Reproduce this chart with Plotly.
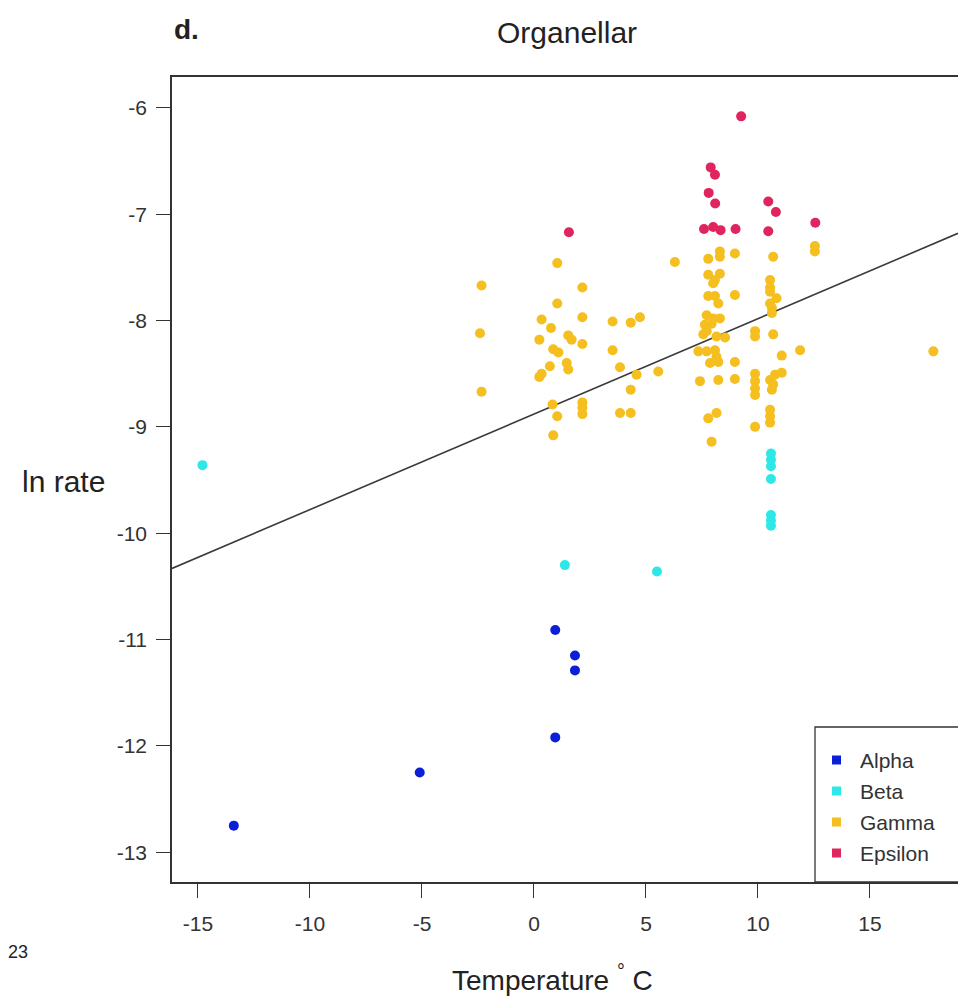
import plotly.graph_objects as go

# ---- data ----
alpha_x = [-13.4, -5.1, 0.95, 1.83, 1.83, 0.95]
alpha_y = [-12.75, -12.25, -10.91, -11.15, -11.29, -11.92]

beta_x = [-14.8, 1.38, 5.49, 10.58, 10.58, 10.58, 10.58, 10.58, 10.58, 10.58]
beta_y = [-9.36, -10.30, -10.36, -9.25, -9.31, -9.37, -9.49, -9.83, -9.88, -9.93]

gamma_x = [-2.34, -2.41, -2.34,
           1.04, 2.16, 1.04, 0.34, 2.16, 0.76, 0.24, 1.53, 1.68, 2.16, 0.86, 1.09,
           0.71, 1.46, 1.53, 0.34, 0.24, 0.83, 1.04, 0.86, 2.16, 2.16, 2.16,
           3.51, 4.32, 4.73, 3.51, 3.84, 4.58, 4.32, 3.84, 4.32, 5.55, 6.29,
           8.30, 8.30, 7.78, 8.97, 7.78, 8.30, 8.08, 8.00, 7.78, 8.08, 8.23, 8.97,
           7.71, 8.00, 8.30, 7.63, 7.93, 7.71, 8.15, 8.53, 7.56, 7.34, 7.71, 8.08,
           8.15, 7.86, 8.23, 8.97, 7.41, 8.23, 8.97, 7.78, 8.15, 7.93,
           9.87, 9.87, 9.87, 9.87, 9.87, 9.87, 9.87,
           10.68, 10.54, 10.54, 10.54, 10.83, 10.54, 10.62, 10.62, 10.68, 10.54,
           10.76, 11.06, 10.62, 10.54, 10.54, 10.54, 11.06, 11.88, 10.68,
           12.54, 12.54, 17.83]
gamma_y = [-7.67, -8.12, -8.67,
           -7.46, -7.69, -7.84, -7.99, -7.97, -8.07, -8.18, -8.14, -8.18, -8.22, -8.27, -8.30,
           -8.43, -8.40, -8.46, -8.50, -8.53, -8.79, -8.90, -9.08, -8.77, -8.82, -8.88,
           -8.01, -8.02, -7.97, -8.28, -8.44, -8.51, -8.65, -8.87, -8.87, -8.48, -7.45,
           -7.35, -7.40, -7.42, -7.37, -7.57, -7.56, -7.62, -7.65, -7.77, -7.77, -7.84, -7.76,
           -7.95, -7.98, -7.98, -8.04, -8.03, -8.10, -8.15, -8.16, -8.13, -8.29, -8.29, -8.28,
           -8.34, -8.40, -8.39, -8.39, -8.57, -8.56, -8.55, -8.92, -8.87, -9.14,
           -8.10, -8.15, -8.50, -8.57, -8.64, -8.70, -9.00,
           -7.40, -7.62, -7.69, -7.73, -7.79, -7.84, -7.88, -7.93, -8.13, -8.56,
           -8.51, -8.49, -8.65, -8.84, -8.90, -8.96, -8.33, -8.28, -8.60,
           -7.30, -7.35, -8.29]

epsilon_x = [9.25, 1.56, 7.89, 8.08, 7.80, 8.09, 7.59, 8.00, 8.33, 9.00, 10.46, 10.80, 10.46, 12.56]
epsilon_y = [-6.08, -7.17, -6.56, -6.63, -6.80, -6.90, -7.14, -7.12, -7.15, -7.14, -6.88, -6.98, -7.16, -7.08]

# regression line coefficients
fit_intercept = -8.88
fit_slope = 0.0898

x_ticks = [-15, -10, -5, 0, 5, 10, 15]
x_tick_labels = ["-15", "-10", "-5", "0", "5", "10", "15"]
y_ticks = [-6, -7, -8, -9, -10, -11, -12, -13]
y_tick_labels = ["-6", "-7", "-8", "-9", "-10", "-11", "-12", "-13"]

groups = ["Alpha", "Beta", "Gamma", "Epsilon"]
colors = {"Alpha": "#0b1fd9", "Beta": "#2ee8e8", "Gamma": "#f4bf1f", "Epsilon": "#e0245e"}
series = {"Alpha": (alpha_x, alpha_y), "Beta": (beta_x, beta_y),
          "Gamma": (gamma_x, gamma_y), "Epsilon": (epsilon_x, epsilon_y)}

x_range = [-16.16, 18.93]
y_range = [-13.28, -5.71]

FONT = "Liberation Sans, Arial, sans-serif"
TXT = "#222"

fig = go.Figure()

# regression line across the plotting range
lx = x_range
ly = [fit_intercept + fit_slope * v for v in lx]
fig.add_trace(go.Scatter(x=lx, y=ly, mode="lines", line=dict(color="#3a3a3a", width=1.6),
                         showlegend=False, hoverinfo="skip"))

for g in groups:
    xs, ys = series[g]
    fig.add_trace(go.Scatter(x=xs, y=ys, mode="markers", name=g, showlegend=False,
                             marker=dict(color=colors[g], size=10, line=dict(width=0))))

L, T, R, B = 172, 77, 0, 119
W, H = 958, 1001
pw = W - L - R
ph = H - T - B


def px_x(p):
    return (p - L) / pw


def px_y(p):
    return (H - B - p) / ph


shapes = []
annotations = [
    dict(text="Organellar", x=px_x(567), y=px_y(32), xref="paper", yref="paper",
         showarrow=False, font=dict(size=30, color=TXT), xanchor="center", yanchor="middle"),
    dict(text="<b>d.</b>", x=px_x(172), y=px_y(30), xref="paper", yref="paper",
         showarrow=False, font=dict(size=28, color=TXT), xanchor="left", yanchor="middle"),
    dict(text="ln rate", x=px_x(20), y=px_y(482), xref="paper", yref="paper",
         showarrow=False, font=dict(size=30, color=TXT), xanchor="left", yanchor="middle"),
    dict(text="Temperature <sup>°</sup> C", x=px_x(552), y=px_y(978), xref="paper", yref="paper",
         showarrow=False, font=dict(size=28, color=TXT), xanchor="center", yanchor="middle"),
    dict(text="23", x=px_x(6), y=px_y(952), xref="paper", yref="paper",
         showarrow=False, font=dict(size=18, color=TXT), xanchor="left", yanchor="middle"),
]

# legend box (drawn like R's legend(): box anchored on the bottom frame, running off the right edge)
shapes.append(dict(type="rect", xref="paper", yref="paper",
                   x0=px_x(815), x1=px_x(990), y0=px_y(882), y1=px_y(727),
                   line=dict(color="#333", width=1.3), fillcolor="white", layer="above"))
row_y = [760, 791, 822, 853]
for g, ry in zip(groups, row_y):
    shapes.append(dict(type="rect", xref="paper", yref="paper",
                       x0=px_x(832), x1=px_x(841), y0=px_y(ry + 4.5), y1=px_y(ry - 4.5),
                       line=dict(width=0), fillcolor=colors[g], layer="above"))
    annotations.append(dict(text=g, x=px_x(858), y=px_y(ry), xref="paper", yref="paper",
                            showarrow=False, font=dict(size=21, color="#333"),
                            xanchor="left", yanchor="middle"))

fig.update_layout(
    width=W, height=H,
    margin=dict(l=L, r=R, t=T, b=B),
    paper_bgcolor="white", plot_bgcolor="white",
    font=dict(family=FONT, color=TXT, size=22),
    showlegend=False,
    xaxis=dict(range=x_range, tickvals=x_ticks, ticktext=x_tick_labels, ticks="outside",
               ticklen=14, tickwidth=1.2, tickcolor="#333", showgrid=False, zeroline=False,
               showline=True, linecolor="#333", linewidth=1.5, mirror=True,
               tickfont=dict(size=21, color="#333"), ticklabelstandoff=8),
    yaxis=dict(range=y_range, tickvals=y_ticks, ticktext=y_tick_labels, ticks="outside",
               ticklen=14, tickwidth=1.2, tickcolor="#333", showgrid=False, zeroline=False,
               showline=True, linecolor="#333", linewidth=1.5, mirror=False,
               tickfont=dict(size=21, color="#333"), ticklabelstandoff=5),
    shapes=shapes,
    annotations=annotations,
)

fig.write_html("out.html")
